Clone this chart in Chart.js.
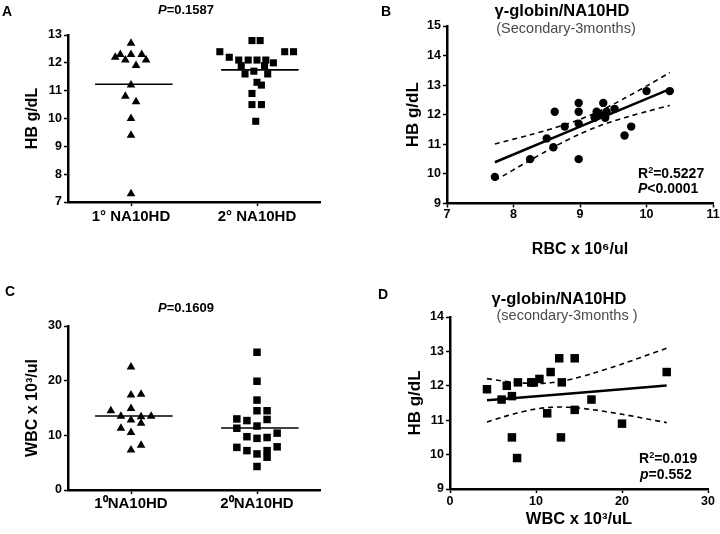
<!DOCTYPE html>
<html>
<head>
<meta charset="utf-8">
<script src="https://cdn.jsdelivr.net/npm/chart.js@4.4.1/dist/chart.umd.min.js"></script>
<style>
  body { margin: 0; background: #fff; }
  #fig { position: relative; width: 720px; height: 534px; overflow: hidden; font-family: Arial, "Liberation Sans", Helvetica, sans-serif; }
  canvas { position: absolute; }
  .t { position: absolute; transform: translate(-50%, -50%); line-height: 1; font-weight: bold; white-space: nowrap; color: #000; }
  .l { position: absolute; transform: translateY(-50%); line-height: 1; font-weight: bold; white-space: nowrap; color: #000; }
  .n { font-weight: normal; color: #4a4a4a; }
  sup { font-size: 0.65em; line-height: 0; vertical-align: 0.55em; }
</style>
</head>
<body>
<div id="fig">
  <canvas id="chartA" width="360" height="260" style="left:0;top:0"></canvas>
  <canvas id="chartB" width="360" height="260" style="left:360px;top:0"></canvas>
  <canvas id="chartC" width="360" height="264" style="left:0;top:270px"></canvas>
  <canvas id="chartD" width="360" height="264" style="left:360px;top:270px"></canvas>

  <div class="t" style="left:7px;top:11px;font-size:14px">A</div>
  <div class="t" style="left:186px;top:9px;font-size:13px"><i>P</i>=0.1587</div>
  <div class="t" style="left:386px;top:11px;font-size:14px">B</div>
  <div class="t" style="left:562px;top:10px;font-size:16.5px">γ-globin/NA10HD</div>
  <div class="t n" style="left:566px;top:27.5px;font-size:14.5px">(Secondary-3months)</div>
  <div class="l" style="left:638px;top:173px;font-size:14px">R<sup>2</sup>=0.5227</div>
  <div class="l" style="left:638px;top:188px;font-size:14px"><i>P</i>&lt;0.0001</div>

  <div class="t" style="left:10px;top:291px;font-size:14px">C</div>
  <div class="t" style="left:186px;top:307px;font-size:13px"><i>P</i>=0.1609</div>
  <div class="t" style="left:383px;top:294px;font-size:14px">D</div>
  <div class="t" style="left:559px;top:298px;font-size:16.5px">γ-globin/NA10HD</div>
  <div class="t n" style="left:567px;top:315px;font-size:14.5px">(secondary-3months )</div>
  <div class="l" style="left:639px;top:458px;font-size:14px">R<sup>2</sup>=0.019</div>
  <div class="l" style="left:640px;top:474px;font-size:14px"><i>p</i>=0.552</div>
</div>

<script>
// A: Hb (g/dL) by group, jitter = horizontal offset within the group column
const groupLabelsA = ["1° NA10HD", "2° NA10HD"];
const hbPrimary = [12.7, 12.2, 12.3, 12.3, 12.3, 12.1, 12.1, 11.9, 11.2, 10.8, 10.6, 10.0, 9.4, 7.3];
const hbPrimaryJitter = [0, -0.25, -0.17, 0, 0.17, -0.09, 0.24, 0.08, 0, -0.09, 0.08, 0, 0, 0];
const hbSecondary = [12.8, 12.8, 12.4, 12.4, 12.4, 12.2, 12.1, 12.1, 12.1, 12.1, 12.0, 11.9, 11.9, 11.7, 11.6, 11.6, 11.3, 11.2, 10.9, 10.5, 10.5, 9.9];
const hbSecondaryJitter = [-0.08, 0.05, -0.59, 0.44, 0.58, -0.44, -0.29, -0.14, 0, 0.14, 0.26, -0.25, 0.12, -0.05, -0.19, 0.17, 0, 0.07, -0.08, -0.08, 0.07, -0.02];
const hbTicksA = [7, 8, 9, 10, 11, 12, 13];

// B: RBC (10^6/ul) vs Hb
const rbcB = [7.72, 8.25, 8.5, 8.6, 8.62, 8.77, 8.98, 8.98, 8.98, 8.98, 9.22, 9.25, 9.3, 9.35, 9.38, 9.4, 9.52, 9.67, 9.77, 10.0, 10.35];
const hbB = [9.9, 10.5, 11.2, 10.9, 12.1, 11.6, 12.4, 12.1, 11.7, 10.5, 11.9, 12.1, 12.0, 12.4, 11.9, 12.1, 12.2, 11.3, 11.6, 12.8, 12.8];
const rbcTicksB = [7, 8, 9, 10, 11];
const hbTicksB = [9, 10, 11, 12, 13, 14, 15];

// C: WBC (10^3/ul) by group
const groupLabelsC = ["1⁰NA10HD", "2⁰NA10HD"];
const wbcPrimary = [22.5, 17.4, 17.5, 14.9, 14.5, 13.5, 13.4, 13.5, 12.8, 12.2, 11.3, 10.5, 8.2, 7.3];
const wbcPrimaryJitter = [0, 0, 0.16, 0, -0.32, -0.16, 0.16, 0.32, 0, 0.16, -0.16, 0, 0.16, 0];
const wbcSecondary = [25.2, 19.9, 16.45, 14.5, 14.5, 13.0, 12.7, 12.9, 11.3, 11.7, 10.4, 9.75, 9.45, 9.6, 7.8, 7.2, 6.6, 7.2, 6.0, 7.9, 4.3];
const wbcSecondaryJitter = [0, 0, 0, 0, 0.16, -0.32, -0.16, 0.16, -0.32, 0, 0.32, -0.16, 0, 0.16, -0.32, -0.16, 0, 0.16, 0.16, 0.32, 0];
const wbcTicksC = [0, 10, 20, 30];

// D: WBC vs Hb
const wbcD = [4.3, 6.0, 6.6, 7.2, 7.2, 7.8, 7.9, 9.45, 9.6, 9.75, 10.4, 11.3, 11.7, 12.7, 12.9, 13.0, 14.5, 14.5, 16.45, 20.0, 25.2];
const hbD = [11.9, 11.6, 12.0, 11.7, 10.5, 9.9, 12.1, 12.1, 12.1, 12.1, 12.2, 11.2, 12.4, 12.8, 10.5, 12.1, 12.8, 11.3, 11.6, 10.9, 12.4];
const wbcTicksD = [0, 10, 20, 30];
const hbTicksD = [9, 10, 11, 12, 13, 14];

const T95_DF19 = 2.093; // two-sided 95% t value, n = 21

const FONT = "Arial, 'Liberation Sans', Helvetica, sans-serif";
const bold = (size, lh = 1.2) => ({ family: FONT, size, weight: "bold", lineHeight: lh });

const mean = a => a.reduce((s, v) => s + v, 0) / a.length;

const fit = (xs, ys) => {
  const n = xs.length, mx = mean(xs), my = mean(ys);
  let sxx = 0, sxy = 0;
  xs.forEach((x, i) => { sxx += (x - mx) ** 2; sxy += (x - mx) * (ys[i] - my); });
  const b = sxy / sxx, a = my - b * mx;
  const sse = xs.reduce((s, x, i) => s + (ys[i] - a - b * x) ** 2, 0);
  return { a, b, mx, sxx, n, s: Math.sqrt(sse / (n - 2)) };
};

const regressionSets = (xs, ys) => {
  const f = fit(xs, ys);
  const ux = [...new Set(xs)].sort((p, q) => p - q);
  const yhat = x => f.a + f.b * x;
  const half = x => T95_DF19 * f.s * Math.sqrt(1 / f.n + (x - f.mx) ** 2 / f.sxx);
  const lo = ux[0], hi = ux[ux.length - 1];
  const line = (data, width, dash) => ({
    data, showLine: true, pointRadius: 0, borderColor: "#000", borderWidth: width, borderDash: dash, tension: 0.3
  });
  return [
    line([{ x: lo, y: yhat(lo) }, { x: hi, y: yhat(hi) }], 2.5, []),
    line(ux.map(x => ({ x, y: yhat(x) + half(x) })), 1.6, [5, 4]),
    line(ux.map(x => ({ x, y: yhat(x) - half(x) })), 1.6, [5, 4])
  ];
};

const groupSets = (values, jitter, pos, style, radius) => {
  const m = mean(values);
  return [
    { data: values.map((v, i) => ({ x: pos + jitter[i], y: v })), pointStyle: style, pointRadius: radius, backgroundColor: "#000", borderWidth: 0 },
    { data: [{ x: pos - 0.57, y: m }, { x: pos + 0.66, y: m }], showLine: true, pointRadius: 0, borderColor: "#000", borderWidth: 1.6 }
  ];
};

const scale = o => ({
  type: "linear",
  min: o.min,
  max: o.max,
  afterBuildTicks: s => { s.ticks = o.ticks.map(value => ({ value })); },
  afterFit: s => {
    if (o.width != null) s.width = o.width;
    if (o.height != null) s.height = o.height;
  },
  border: { display: true, color: "#000", width: 2.5 },
  grid: { drawOnChartArea: false, drawTicks: true, tickLength: 4, tickColor: "#000", tickWidth: 1.5 },
  ticks: { color: "#000", font: bold(o.size, o.lh || 1.2), padding: o.pad, callback: o.label || (v => v) },
  title: o.title
    ? { display: true, text: o.title, color: "#000", font: bold(o.titleSize), padding: o.titlePad }
    : { display: false }
});

const makeChart = (id, padding, xs, ys, datasets) => new Chart(document.getElementById(id), {
  type: "scatter",
  data: { datasets },
  options: {
    responsive: false,
    animation: false,
    events: [],
    devicePixelRatio: 1,
    layout: { padding },
    plugins: { legend: { display: false }, tooltip: { enabled: false } },
    scales: { x: xs, y: ys }
  }
});

makeChart("chartA", { top: 35, right: 40, left: 0, bottom: 0 },
  scale({ min: 0, max: 4, ticks: [1, 3], height: 58, size: 15, pad: 2, label: (v, i) => groupLabelsA[i] }),
  scale({ min: 7, max: 13, ticks: hbTicksA, width: 68, size: 12.5, pad: 2, title: "HB g/dL", titleSize: 16, titlePad: { top: 23, bottom: 0 } }),
  [...groupSets(hbPrimary, hbPrimaryJitter, 1, "triangle", 5), ...groupSets(hbSecondary, hbSecondaryJitter, 3, "rect", 5)]
);

makeChart("chartB", { top: 26, right: 7, left: 0, bottom: 0 },
  scale({ min: 7, max: 11, ticks: rbcTicksB, height: 56.5, size: 12.5, pad: 0, title: "RBC x 10⁶/ul", titleSize: 16, titlePad: { top: 0, bottom: 1 } }),
  scale({ min: 9, max: 15, ticks: hbTicksB, width: 87, size: 12.5, pad: 2, title: "HB g/dL", titleSize: 17, titlePad: { top: 43, bottom: 0 } }),
  [{ data: rbcB.map((x, i) => ({ x, y: hbB[i] })), pointStyle: "circle", pointRadius: 4.2, backgroundColor: "#000", borderWidth: 0 },
   ...regressionSets(rbcB, hbB)]
);

makeChart("chartC", { top: 56, right: 40, left: 0, bottom: 0 },
  scale({ min: 0, max: 4, ticks: [1, 3], height: 44, size: 15, pad: 1, label: (v, i) => groupLabelsC[i] }),
  scale({ min: 0, max: 30, ticks: wbcTicksC, width: 68, size: 12.5, pad: 2, title: "WBC x 10³/ul", titleSize: 16, titlePad: { top: 23, bottom: 0 } }),
  [...groupSets(wbcPrimary, wbcPrimaryJitter, 1, "triangle", 5), ...groupSets(wbcSecondary, wbcSecondaryJitter, 3, "rect", 5.3)]
);

makeChart("chartD", { top: 47, right: 12, left: 0, bottom: 0 },
  scale({ min: 0, max: 30, ticks: wbcTicksD, height: 45, size: 12.5, pad: 1.5, title: "WBC x 10³/uL", titleSize: 16.5, titlePad: { top: 0, bottom: 5 } }),
  scale({ min: 9, max: 14, ticks: hbTicksD, width: 90, size: 12.5, pad: 2, title: "HB g/dL", titleSize: 17, titlePad: { top: 45, bottom: 0 } }),
  [{ data: wbcD.map((x, i) => ({ x, y: hbD[i] })), pointStyle: "rect", pointRadius: 6, backgroundColor: "#000", borderWidth: 0 },
   ...regressionSets(wbcD, hbD)]
);
</script>
</body>
</html>
